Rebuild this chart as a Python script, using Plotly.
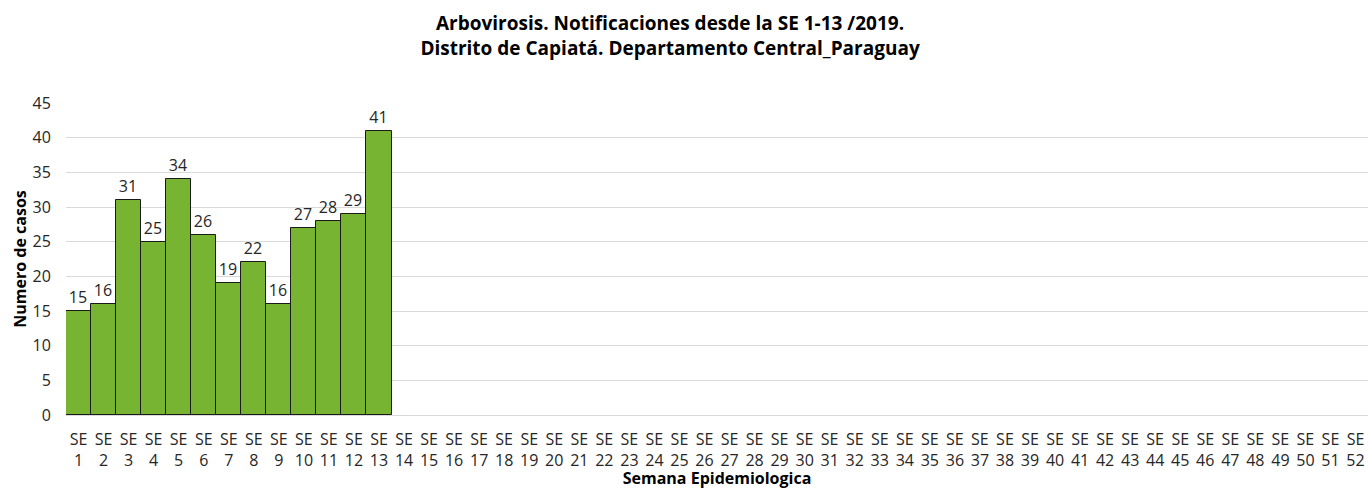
import plotly.graph_objects as go

weeks = [f"SE<br>{i}" for i in range(1, 53)]
cases = [15, 16, 31, 25, 34, 26, 19, 22, 16, 27, 28, 29, 41]
y_ticks = [0, 5, 10, 15, 20, 25, 30, 35, 40, 45]

font = "Open Sans, Noto Sans, sans-serif"

fig = go.Figure()
fig.add_trace(go.Bar(
    x=weeks[:len(cases)], y=cases,
    marker=dict(color="#76b431", line=dict(color="#1a1a1a", width=1)),
    text=cases, textposition="outside", cliponaxis=False,
    textfont=dict(family=font, size=16, color="#262626"),
    width=1.0,
))
fig.update_layout(
    width=1368, height=489,
    margin=dict(l=66, r=0, t=103, b=74),
    paper_bgcolor="white", plot_bgcolor="white",
    showlegend=False, bargap=0,
    title=dict(
        text="<b>Arbovirosis. Notificaciones desde la SE 1-13 /2019.<br>Distrito de Capiatá. Departamento Central_Paraguay</b>",
        x=0.4898, xanchor="center", xref="container", y=1, yanchor="top", yref="container",
        pad=dict(t=30),
        font=dict(family=font, size=19, color="#000000"),
    ),
    font=dict(family=font, size=16, color="#262626"),
)
fig.update_xaxes(
    type="category", categoryorder="array", categoryarray=weeks,
    range=[-0.5, 51.5], tickangle=0, showgrid=False, automargin=False,
    showline=True, linecolor="#d9d9d9", linewidth=1,
    ticks="outside", ticklen=10, tickcolor="rgba(0,0,0,0)",
    tickfont=dict(family=font, size=16, color="#262626"),
    title=dict(text="<b>Semana Epidemiologica</b>", standoff=13,
               font=dict(family=font, size=16, color="#000000")),
)
fig.update_yaxes(
    range=[0, 45], tickvals=y_ticks, showgrid=True, gridcolor="#d9d9d9",
    zeroline=False, automargin=False,
    ticks="outside", ticklen=11, tickcolor="rgba(0,0,0,0)",
    tickfont=dict(family=font, size=16, color="#262626"),
    title=dict(text="<b>Numero de casos</b>", standoff=1,
               font=dict(family=font, size=16, color="#000000")),
)
fig.write_html(
    "out.html",
    config={"displayModeBar": False},
    post_script="document.body.style.margin='0px';document.body.style.overflow='hidden';",
)
